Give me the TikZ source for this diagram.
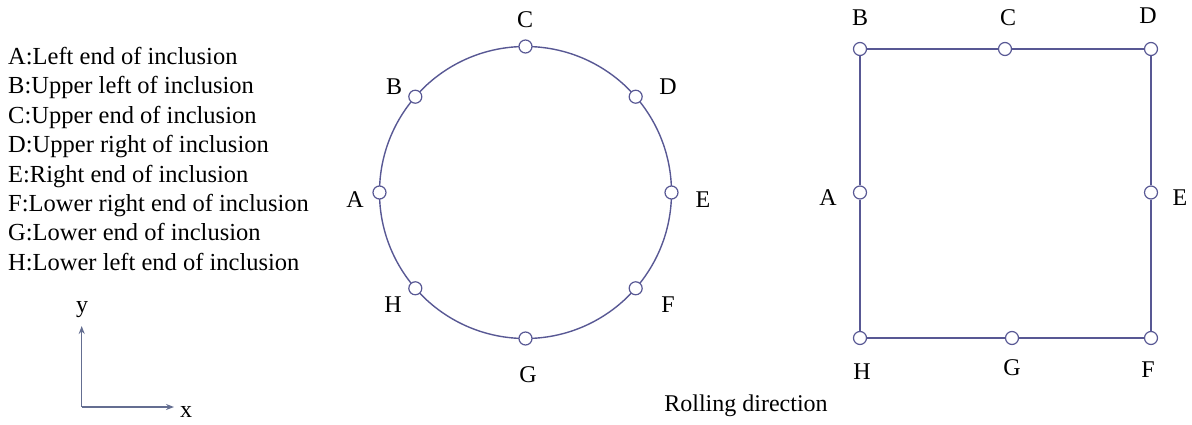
\documentclass[tikz,border=0pt]{standalone}
\usepackage{fontspec}
\setmainfont{Liberation Serif}
\usetikzlibrary{arrows.meta,positioning,calc}
\definecolor{lnblue}{RGB}{88,88,148}
\definecolor{axgray}{RGB}{100,110,145}
\tikzset{
  ln/.style={draw=lnblue,line width=1.4pt},
  mrk/.style={circle,draw=lnblue,line width=1.2pt,fill=white,minimum size=13pt,inner sep=0pt},
  lbl/.style={font=\fontsize{24}{28}\selectfont,inner sep=0pt},
  legtxt/.style={font=\fontsize{24.5}{29}\selectfont,anchor=base west,inner sep=0pt},
  arr/.style={-{Stealth[length=8pt,width=6pt]},draw=axgray,line width=1.3pt}
}

\begin{document}
\begin{tikzpicture}[x=1pt,y=1pt]
  \useasboundingbox (0,0) rectangle (1192,424);

  % legend
  \foreach \yy/\txt [count=\i] in {359.5/{A:Left end of inclusion},330.1/{B:Upper left of inclusion},
      300.7/{C:Upper end of inclusion},271.3/{D:Upper right of inclusion},241.9/{E:Right end of inclusion},
      212.5/{F:Lower right end of inclusion},183.1/{G:Lower end of inclusion},153.7/{H:Lower left end of inclusion}}
    \node[legtxt] (leg\i) at (8,\yy) {\txt};

  % axes
  \coordinate (o) at (81.7,17);
  \coordinate (yend) at (81.7,98);
  \coordinate (xend) at (174,17);
  \draw[arr] (o) -- (yend);
  \draw[arr] (o) -- (xend);
  \node[lbl] (ylab) at (82,114) {y};
  \node[lbl] (xlab) at (186,12) {x};

  % circular inclusion
  \coordinate (cen) at (525.5,231.5);
  \draw[ln] (cen) circle (146pt);
  \foreach \ang/\nm in {180/A,139/B,90/C,41/D,0/E,-41/F,-90/G,-139/H}
    \node[mrk] (c\nm) at ($(cen)+(\ang:146)$) {};
  \node[lbl] (tcA) at (355,224) {A};
  \node[lbl] (tcB) at (394,337) {B};
  \node[lbl] (tcC) at (525,404) {C};
  \node[lbl] (tcD) at (668,337) {D};
  \node[lbl] (tcE) at (703,224) {E};
  \node[lbl] (tcF) at (668,119) {F};
  \node[lbl] (tcG) at (528,49) {G};
  \node[lbl] (tcH) at (393,119) {H};

  % square inclusion
  \node[mrk] (sB) at (860,375) {};
  \node[mrk] (sC) at (1005,375) {};
  \node[mrk] (sD) at (1151,375) {};
  \node[mrk] (sE) at (1151,231.5) {};
  \node[mrk] (sF) at (1151,86) {};
  \node[mrk] (sG) at (1012,86) {};
  \node[mrk] (sH) at (860,86) {};
  \node[mrk] (sA) at (860,231.5) {};
  \draw[ln] (sB) -- (sC) -- (sD) -- (sE) -- (sF) -- (sG) -- (sH) -- (sA) -- (sB);
  \node[lbl] (tsA) at (828,226) {A};
  \node[lbl] (tsB) at (860,406) {B};
  \node[lbl] (tsC) at (1008,406) {C};
  \node[lbl] (tsD) at (1148,408) {D};
  \node[lbl] (tsE) at (1180,226) {E};
  \node[lbl] (tsF) at (1148,54) {F};
  \node[lbl] (tsG) at (1012,56) {G};
  \node[lbl] (tsH) at (862,52) {H};

  \node[lbl] (roll) at (746,18) {Rolling direction};
\end{tikzpicture}
\end{document}
